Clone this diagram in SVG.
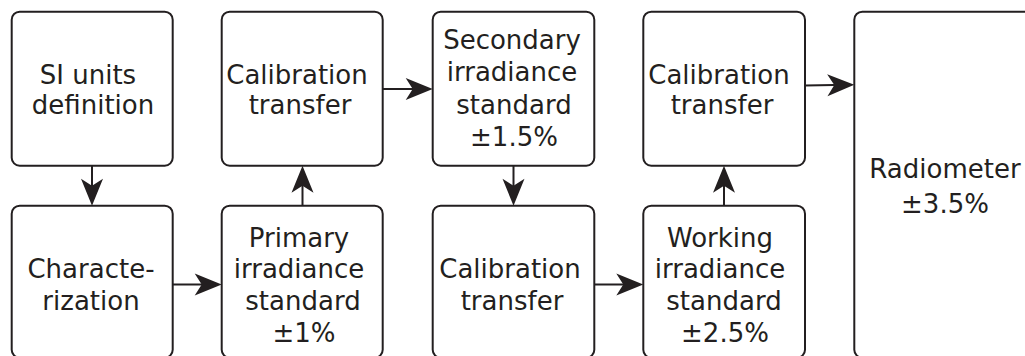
<svg xmlns="http://www.w3.org/2000/svg" width="1025" height="356" viewBox="0 0 1025 356">
  <defs>
    <style>
      .box { fill: #ffffff; stroke: #231f20; stroke-width: 2; }
      .lbl { font-family: "DejaVu Sans", "Liberation Sans", sans-serif; font-size: 26px; fill: #231f20; text-anchor: middle; }
      .link { fill: none; stroke: #231f20; stroke-width: 2; marker-end: url(#head); }
    </style>
    <!-- swept-back arrowhead; tip sits 6px past the end of the line -->
    <marker id="head" viewBox="-22 -12 29 24" refX="0" refY="0" markerWidth="29" markerHeight="24" markerUnits="userSpaceOnUse" orient="auto">
      <path d="M6,0 L-21,-11 L-14,0 L-21,11 Z" fill="#231f20"/>
    </marker>
  </defs>

  <rect width="1025" height="356" fill="#ffffff"/>

  <!-- top row -->
  <g id="si-units">
    <rect class="box" x="11.7" y="11.7" width="161" height="154" rx="8"/>
    <text class="lbl"><tspan x="88" y="83.5">SI units</tspan><tspan x="93" y="114">definition</tspan></text>
  </g>
  <g id="calibration-transfer-1">
    <rect class="box" x="221.7" y="11.7" width="161" height="154" rx="8"/>
    <text class="lbl"><tspan x="297" y="84">Calibration</tspan><tspan x="300" y="114">transfer</tspan></text>
  </g>
  <g id="secondary-standard">
    <rect class="box" x="432.7" y="11.7" width="161.6" height="154" rx="8"/>
    <text class="lbl"><tspan x="512" y="48.5">Secondary</tspan><tspan x="512" y="81">irradiance</tspan><tspan x="514" y="113.5">standard</tspan><tspan x="514" y="146">±1.5%</tspan></text>
  </g>
  <g id="calibration-transfer-3">
    <rect class="box" x="643.3" y="11.7" width="161.7" height="154" rx="8"/>
    <text class="lbl"><tspan x="719" y="84">Calibration</tspan><tspan x="722" y="114">transfer</tspan></text>
  </g>

  <!-- bottom row -->
  <g id="characterization">
    <rect class="box" x="11.7" y="205.7" width="161" height="152" rx="8"/>
    <text class="lbl"><tspan x="91" y="278">Characte-</tspan><tspan x="91" y="309.5">rization</tspan></text>
  </g>
  <g id="primary-standard">
    <rect class="box" x="221.7" y="205.7" width="161" height="152" rx="8"/>
    <text class="lbl"><tspan x="299" y="247">Primary</tspan><tspan x="299" y="278">irradiance</tspan><tspan x="303" y="309.5">standard</tspan><tspan x="304" y="342">±1%</tspan></text>
  </g>
  <g id="calibration-transfer-2">
    <rect class="box" x="432.7" y="205.7" width="161.6" height="152" rx="8"/>
    <text class="lbl"><tspan x="510" y="278">Calibration</tspan><tspan x="512" y="309.5">transfer</tspan></text>
  </g>
  <g id="working-standard">
    <rect class="box" x="643.3" y="205.7" width="161.7" height="152" rx="8"/>
    <text class="lbl"><tspan x="720" y="247">Working</tspan><tspan x="720" y="278">irradiance</tspan><tspan x="724" y="309.5">standard</tspan><tspan x="725" y="342">±2.5%</tspan></text>
  </g>

  <!-- tall box on the right -->
  <g id="radiometer">
    <rect class="box" x="854.3" y="11.7" width="190" height="346" rx="8"/>
    <text class="lbl"><tspan x="945" y="178">Radiometer</tspan><tspan x="945" y="213">±3.5%</tspan></text>
  </g>

  <g id="connectors">
    <line class="link" x1="92" y1="165.7" x2="92" y2="199.7"/>
    <line class="link" x1="172.7" y1="284.5" x2="215.7" y2="284.5"/>
    <line class="link" x1="302.5" y1="205.7" x2="302.5" y2="171.7"/>
    <line class="link" x1="382.7" y1="89" x2="426.7" y2="89"/>
    <line class="link" x1="513.5" y1="165.7" x2="513.5" y2="199.7"/>
    <line class="link" x1="594.3" y1="284.5" x2="637.3" y2="284.5"/>
    <line class="link" x1="724" y1="205.7" x2="724" y2="171.7"/>
    <line class="link" x1="805" y1="85.5" x2="848.3" y2="84.8"/>
  </g>
</svg>
